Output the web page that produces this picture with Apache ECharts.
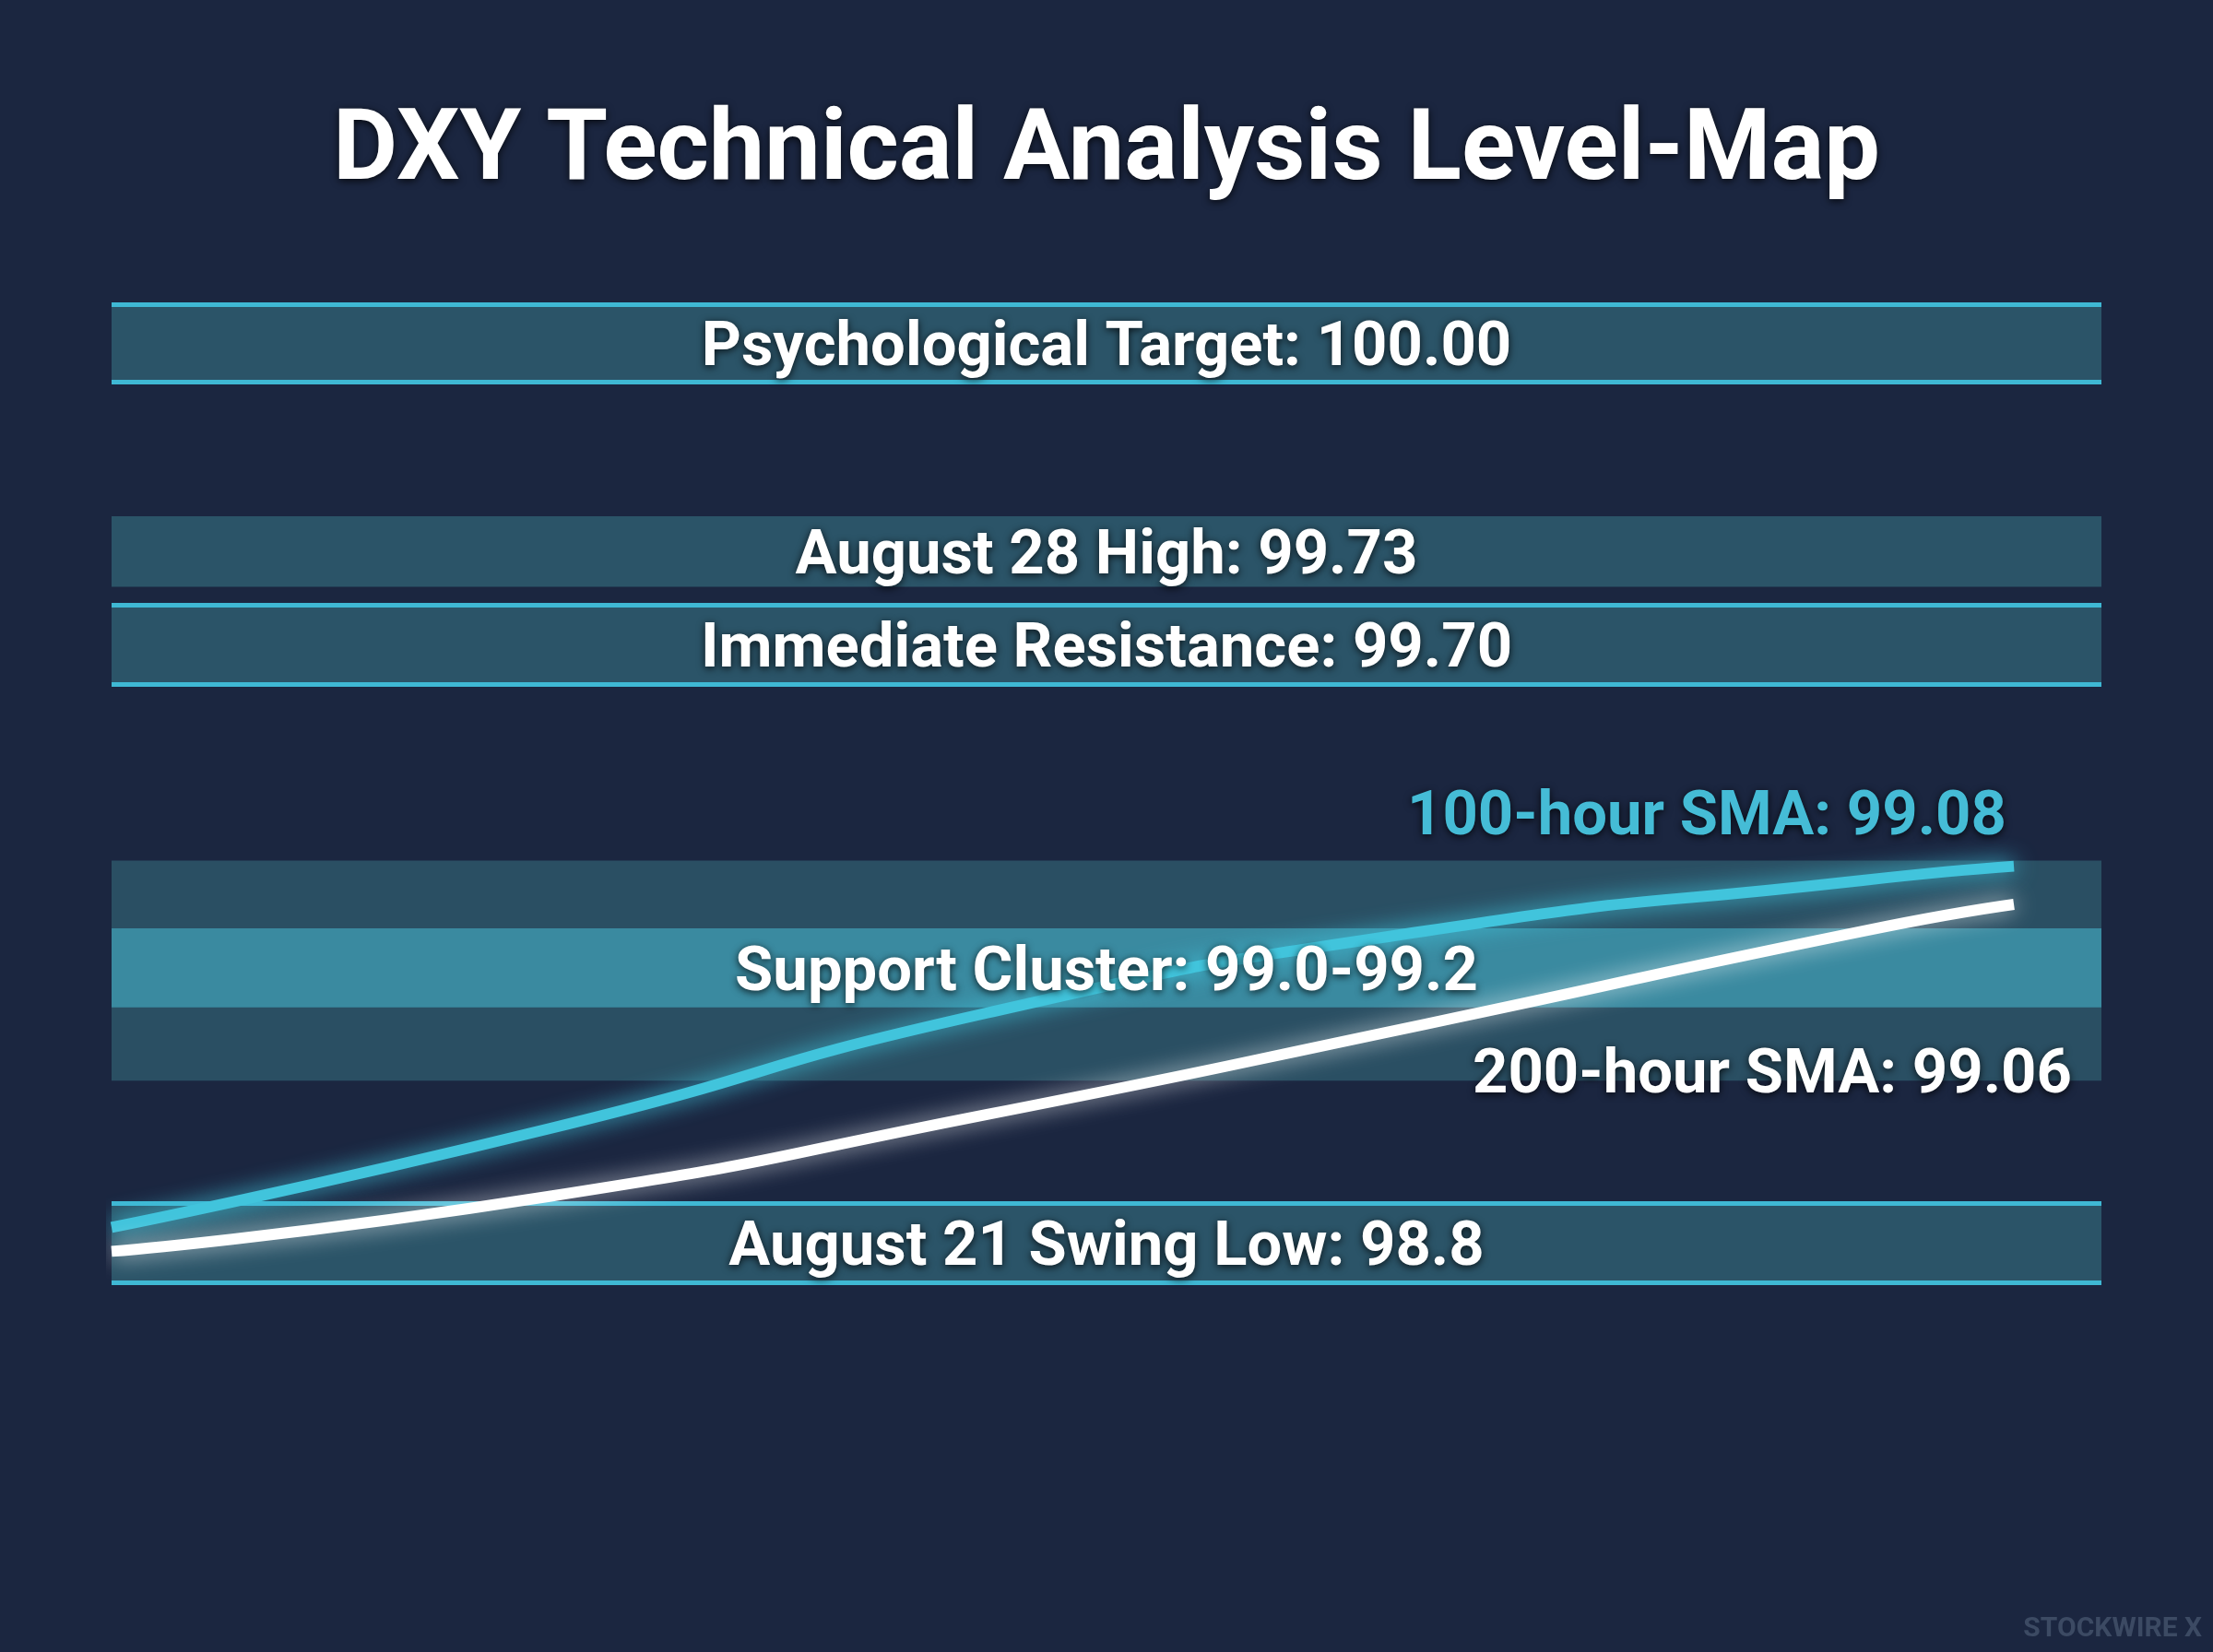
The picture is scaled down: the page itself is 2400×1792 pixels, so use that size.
<!DOCTYPE html>
<html>
<head>
<meta charset="utf-8">
<script src="https://cdn.jsdelivr.net/npm/echarts@6/dist/echarts.min.js"></script>
<style>html,body{margin:0;padding:0;background:#1b2640;}#chart{width:2400px;height:1792px;}</style>
</head>
<body>
<div id="chart"></div>
<script>
// schematic layout: vertical position in reference units (0 = top, 1171 = bottom)
var bandNames = ['Psychological Target: 100.00', 'August 28 High: 99.73', 'Immediate Resistance: 99.70', '', 'Support Cluster: 99.0-99.2', 'August 21 Swing Low: 98.8'];
var bandTop = [216, 366, 429, 610, 658, 853];
var bandBottom = [271, 416, 485, 766, 714, 909];
var bandEdges = [true, false, true, false, false, true];
var bandFill = ['#2b5468', '#2b5468', '#2b5468', '#2a4f63', '#3a8aa0', '#2b5468'];

// moving averages (time 0..100)
var smaX = [0, 22, 44, 66, 88, 95.6];
var sma100 = [870, 800, 718, 660, 624, 614];
var sma200 = [887, 848, 790, 726, 660, 641];

var chart = echarts.init(document.getElementById('chart'));

var areas = [], labelAreas = [], lines = [];
for (var i = 0; i < bandNames.length; i++) {
  areas.push([{ yAxis: bandTop[i], itemStyle: { color: bandFill[i] } }, { yAxis: bandBottom[i] }]);
  if (bandNames[i] !== '') labelAreas.push([{ yAxis: bandTop[i], name: bandNames[i] }, { yAxis: bandBottom[i] }]);
  if (bandEdges[i]) {
    lines.push({ yAxis: bandTop[i] });
    lines.push({ yAxis: bandBottom[i] });
  }
}

function pairs(ys) {
  return smaX.map(function (x, k) { return [x, ys[k]]; });
}

var shadow = { textShadowColor: 'rgba(0,0,0,0.8)', textShadowBlur: 8, textShadowOffsetY: 2 };

var option = {
  backgroundColor: '#1b2640',
  title: {
    text: 'DXY Technical Analysis Level-Map',
    left: 'center', top: 108,
    textStyle: Object.assign({ color: '#ffffff', fontSize: 108, fontWeight: 'bold', fontFamily: 'Roboto' }, shadow)
  },
  grid: { left: 121, right: 121, top: 0, bottom: 0 },
  xAxis: { type: 'value', min: 0, max: 100, show: false },
  yAxis: { type: 'value', min: 0, max: 1171, inverse: true, show: false },
  series: [
    {
      type: 'line', data: [], silent: true, z: 1,
      markArea: { silent: true, z: 1, label: { show: false }, data: areas },
      markLine: {
        silent: true, z: 1, symbol: 'none', label: { show: false },
        lineStyle: { color: '#3fb8d4', width: 5, type: 'solid' },
        data: lines
      }
    },
    {
      type: 'line', name: '100-hour SMA', data: pairs(sma100), smooth: 0.6, symbol: 'none', z: 5,
      lineStyle: { color: '#41c4dc', width: 12, shadowColor: '#41c4dc', shadowBlur: 25 }
    },
    {
      type: 'line', name: '200-hour SMA', data: pairs(sma200), smooth: 0.6, symbol: 'none', z: 5,
      lineStyle: { color: '#ffffff', width: 12, shadowColor: 'rgba(255,255,255,0.7)', shadowBlur: 25 }
    },
    {
      type: 'line', data: [], silent: true, z: 10,
      markArea: {
        silent: true, z: 20,
        itemStyle: { color: 'rgba(0,0,0,0)' },
        label: Object.assign({ position: 'inside', offset: [0, 7], color: '#ffffff', fontSize: 67, fontWeight: 'bold', fontFamily: 'Roboto' }, shadow),
        data: labelAreas
      }
    }
  ],
  graphic: [
    { type: 'text', z: 100, right: 224, top: 855, style: Object.assign({ text: '100-hour SMA: 99.08', fill: '#45bcd6', fontSize: 67, fontWeight: 'bold', fontFamily: 'Roboto' }, shadow) },
    { type: 'text', z: 100, right: 153, top: 1135, style: Object.assign({ text: '200-hour SMA: 99.06', fill: '#ffffff', fontSize: 67, fontWeight: 'bold', fontFamily: 'Roboto' }, shadow) },
    { type: 'text', z: 100, right: 12, top: 1752, style: { text: 'STOCKWIRE X', fill: '#3c4a63', fontSize: 30, fontWeight: 'bold', fontFamily: 'Roboto' } }
  ]
};
chart.setOption(option);
</script>
</body>
</html>
